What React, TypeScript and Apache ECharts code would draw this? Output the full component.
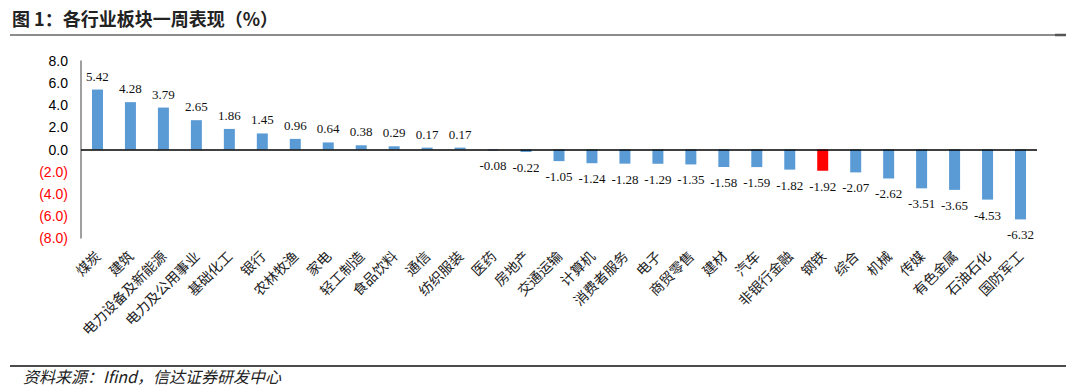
import React, { useEffect, useRef } from "react";
import * as echarts from "echarts";

const categories = [
  "煤炭", "建筑", "电力设备及新能源", "电力及公用事业", "基础化工", "银行", "农林牧渔", "家电",
  "轻工制造", "食品饮料", "通信", "纺织服装", "医药", "房地产", "交通运输", "计算机",
  "消费者服务", "电子", "商贸零售", "建材", "汽车", "非银行金融", "钢铁", "综合",
  "机械", "传媒", "有色金属", "石油石化", "国防军工",
];
const values = [
  5.42, 4.28, 3.79, 2.65, 1.86, 1.45, 0.96, 0.64, 0.38, 0.29, 0.17, 0.17, -0.08, -0.22,
  -1.05, -1.24, -1.28, -1.29, -1.35, -1.58, -1.59, -1.82, -1.92, -2.07, -2.62, -3.51,
  -3.65, -4.53, -6.32,
];
const highlighted = ["钢铁"];
const yMin = -8;
const yMax = 8;
const yInterval = 2;

const titleText = "图 1：各行业板块一周表现（%）";
const sourceText = "资料来源：Ifind，信达证券研发中心";

const BLUE = "#5B9BD5";
const RED = "#FF0000";

export default function App() {
  const ref = useRef<HTMLDivElement>(null);
  useEffect(() => {
    if (!ref.current) return;
    const chart = echarts.init(ref.current, undefined, { renderer: "svg" });
    const data = values.map((v, i) => ({
      value: v,
      itemStyle: { color: highlighted.includes(categories[i]) ? RED : BLUE },
      label: { position: v >= 0 ? "top" : "bottom", distance: v >= 0 ? 7 : 9 },
    }));
    chart.setOption({
      animation: false,
      grid: { left: 81, right: 43, top: 61, bottom: 151, containLabel: false },
      xAxis: {
        type: "category",
        data: categories,
        axisLine: { show: false },
        axisTick: { show: false },
        axisLabel: {
          rotate: 45,
          interval: 0,
          margin: 15,
          fontSize: 14,
          color: "#222",
          fontFamily: "Noto Sans CJK SC",
        },
      },
      yAxis: {
        type: "value",
        min: yMin,
        max: yMax,
        interval: yInterval,
        splitLine: { show: false },
        axisTick: { show: false },
        axisLine: { show: true, lineStyle: { color: "#808080", width: 1.5 } },
        axisLabel: {
          margin: 13,
          fontSize: 14,
          fontFamily: "Liberation Sans",
          color: (v: any) => (Number(v) < 0 ? RED : "#000"),
          formatter: (v: number) =>
            v < 0 ? `(${Math.abs(v).toFixed(1)})` : v.toFixed(1),
        },
      },
      series: [
        {
          type: "bar",
          data,
          barWidth: 11,
          label: {
            show: true,
            fontSize: 13,
            fontFamily: "Liberation Serif",
            color: "#111",
            formatter: (p: any) => Number(p.value).toFixed(2),
          },
          markLine: {
            silent: true,
            symbol: "none",
            label: { show: false },
            lineStyle: { color: "#000", width: 1.5, type: "solid" },
            data: [{ yAxis: 0 }],
          },
        },
      ],
      graphic: [
        {
          type: "text",
          left: 12,
          top: 9,
          style: {
            text: titleText,
            fontSize: 18,
            fontWeight: "bold",
            fontFamily: "Noto Sans CJK SC",
            fill: "#222",
          },
        },
        {
          type: "line",
          shape: { x1: 10, y1: 35, x2: 1066, y2: 35 },
          style: { stroke: "#666", lineWidth: 1.5 },
        },
        {
          type: "line",
          shape: { x1: 1055, y1: 35, x2: 1066, y2: 35 },
          style: { stroke: "#555", lineWidth: 2.5 },
        },
        {
          type: "line",
          shape: { x1: 10, y1: 366, x2: 1066, y2: 366 },
          style: { stroke: "#111", lineWidth: 1.5 },
        },
        {
          type: "text",
          left: 23,
          top: 368,
          style: {
            text: sourceText,
            fontSize: 16,
            fontStyle: "italic",
            fontFamily: "Noto Sans CJK SC",
            fill: "#222",
          },
        },
      ],
    });
    return () => chart.dispose();
  }, []);
  return (
    <div
      ref={ref}
      style={{ position: "fixed", left: 0, top: 0, width: 1080, height: 389, background: "#fff" }}
    />
  );
}
